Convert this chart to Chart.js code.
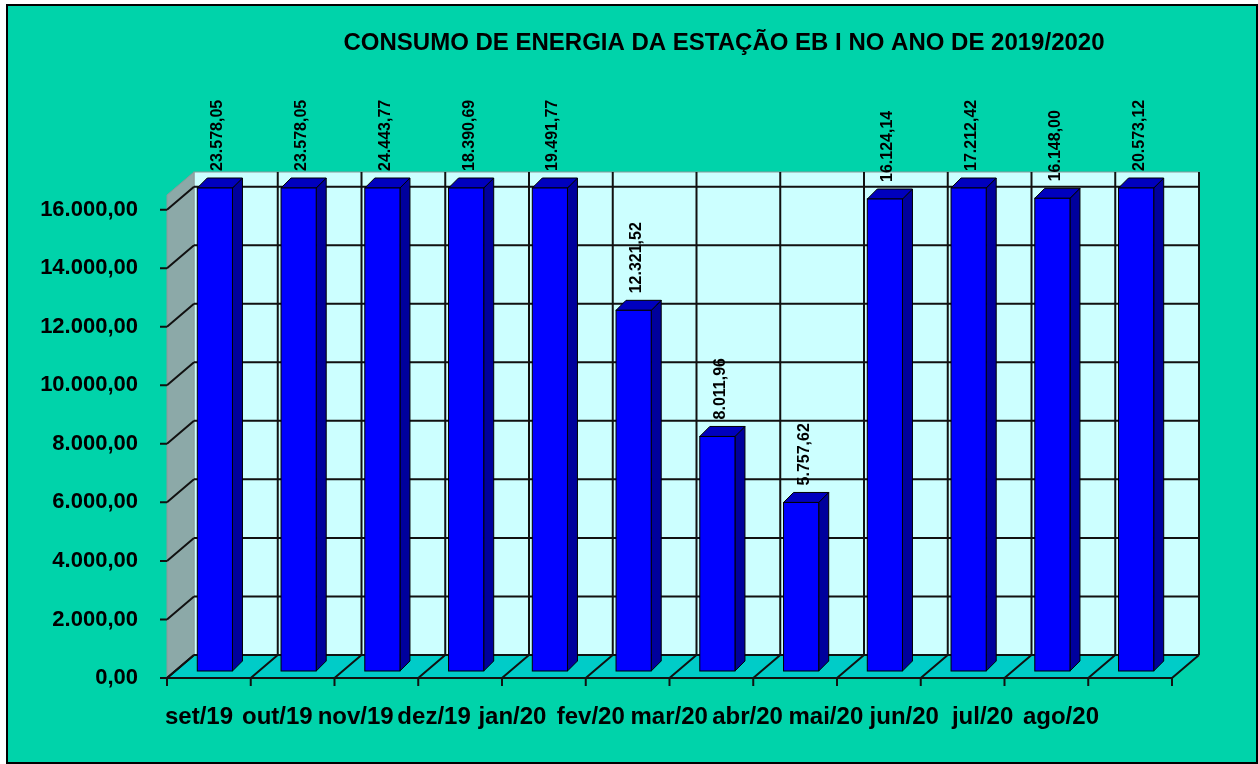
<!DOCTYPE html>
<html>
<head>
<meta charset="utf-8">
<script src="https://cdn.jsdelivr.net/npm/chart.js@4"></script>
<style>
  body { margin: 0; background: #fff; }
  canvas { display: block; }
</style>
</head>
<body>
<canvas id="grafico" width="1258" height="764"></canvas>
<script>
// dados do grafico
const meses = ['set/19', 'out/19', 'nov/19', 'dez/19', 'jan/20', 'fev/20', 'mar/20', 'abr/20', 'mai/20', 'jun/20', 'jul/20', 'ago/20'];
const consumo = [23578.05, 23578.05, 24443.77, 18390.69, 19491.77, 12321.52, 8011.96, 5757.62, 16124.14, 17212.42, 16148.00, 20573.12];
const ticksY = [0, 2000, 4000, 6000, 8000, 10000, 12000, 14000, 16000];
const maxY = 16500;
const titulo = 'CONSUMO DE ENERGIA DA ESTAÇÃO EB I NO ANO DE 2019/2020';

const fonte = '"Liberation Sans", Arial, sans-serif';

function fmt(v) {
    const [inteiro, dec] = v.toFixed(2).split('.');
    return inteiro.replace(/\B(?=(\d{3})+(?!\d))/g, '.') + ',' + dec;
}

// profundidade das paredes e das barras
const fundoX = 27, fundoY = -23;
const barraDx = 6, barraDy = -7, barraProf = 10;

const excel3d = {
    id: 'excel3d',
    beforeDraw(chart) {
        const ctx = chart.ctx;
        ctx.save();
        ctx.fillStyle = '#ffffff';
        ctx.fillRect(0, 0, chart.width, chart.height);
        ctx.fillStyle = '#00D3AA';
        ctx.fillRect(8, 6, 1248, 756);
        ctx.strokeStyle = '#000';
        ctx.lineWidth = 2;
        ctx.strokeRect(7, 5, 1250, 758);
        ctx.fillStyle = '#000';
        ctx.font = 'bold 24px ' + fonte;
        ctx.textAlign = 'center';
        ctx.textBaseline = 'middle';
        ctx.fillText(titulo, 724, 43);
        ctx.restore();
    },
    beforeDatasetsDraw(chart) {
        const ctx = chart.ctx;
        const { left, right, top, bottom } = chart.chartArea;
        const y = chart.scales.y;
        ctx.save();
        // parede do fundo
        ctx.fillStyle = '#CCFFFF';
        ctx.fillRect(left + fundoX, top + fundoY, right - left, bottom - top);
        ctx.strokeStyle = '#8a9a9a';
        ctx.lineWidth = 1;
        ctx.strokeRect(left + fundoX, top + fundoY, right - left, bottom - top);
        // parede lateral
        ctx.fillStyle = '#8CA9A8';
        ctx.beginPath();
        ctx.moveTo(left, top);
        ctx.lineTo(left + fundoX, top + fundoY);
        ctx.lineTo(left + fundoX, bottom + fundoY);
        ctx.lineTo(left, bottom);
        ctx.closePath();
        ctx.fill();
        ctx.stroke();
        // piso
        ctx.fillStyle = '#00CCC8';
        ctx.beginPath();
        ctx.moveTo(left, bottom);
        ctx.lineTo(right, bottom);
        ctx.lineTo(right + fundoX, bottom + fundoY);
        ctx.lineTo(left + fundoX, bottom + fundoY);
        ctx.closePath();
        ctx.fill();

        ctx.strokeStyle = '#111';
        ctx.lineWidth = 2;
        // linhas horizontais
        y.ticks.forEach(t => {
            const py = y.getPixelForValue(t.value);
            ctx.beginPath();
            ctx.moveTo(left + fundoX, py + fundoY);
            ctx.lineTo(right + fundoX, py + fundoY);
            ctx.moveTo(left, py);
            ctx.lineTo(left + fundoX, py + fundoY);
            ctx.moveTo(left - 7, py);
            ctx.lineTo(left, py);
            ctx.stroke();
        });
        // linhas verticais
        const passo = (right - left) / meses.length;
        for (let k = 0; k <= meses.length; k++) {
            const bx = left + k * passo;
            ctx.beginPath();
            if (k > 0) {
                ctx.moveTo(bx + fundoX, top + fundoY);
                ctx.lineTo(bx + fundoX, bottom + fundoY);
            }
            ctx.moveTo(bx, bottom);
            ctx.lineTo(bx + fundoX, bottom + fundoY);
            ctx.moveTo(bx, bottom);
            ctx.lineTo(bx, bottom + 8);
            ctx.stroke();
        }
        ctx.beginPath();
        ctx.moveTo(left, bottom);
        ctx.lineTo(right, bottom);
        ctx.stroke();
        ctx.restore();
    },
    afterDatasetsDraw(chart) {
        const ctx = chart.ctx;
        const y = chart.scales.y;
        const meta = chart.getDatasetMeta(0);
        ctx.save();
        ctx.lineWidth = 1;
        ctx.strokeStyle = '#000';
        meta.data.forEach((bar, i) => {
            const v = Math.min(consumo[i], maxY);
            const w = bar.width;
            const x0 = bar.x - w / 2 + barraDx;
            const x1 = bar.x + w / 2 + barraDx;
            const yTop = y.getPixelForValue(v) + barraDy;
            const yBase = y.getPixelForValue(0) + barraDy;
            const d = barraProf;
            // lateral
            ctx.fillStyle = '#00009C';
            ctx.beginPath();
            ctx.moveTo(x1, yBase);
            ctx.lineTo(x1, yTop);
            ctx.lineTo(x1 + d, yTop - d);
            ctx.lineTo(x1 + d, yBase - d);
            ctx.closePath();
            ctx.fill();
            ctx.stroke();
            // topo
            ctx.fillStyle = '#0000BE';
            ctx.beginPath();
            ctx.moveTo(x0, yTop);
            ctx.lineTo(x1, yTop);
            ctx.lineTo(x1 + d, yTop - d);
            ctx.lineTo(x0 + d, yTop - d);
            ctx.closePath();
            ctx.fill();
            ctx.stroke();
            // frente
            ctx.fillStyle = '#0000FF';
            ctx.fillRect(x0, yTop, w, yBase - yTop);
            ctx.strokeRect(x0, yTop, w, yBase - yTop);
            // rotulo
            ctx.save();
            ctx.translate(bar.x + barraDx + 3, yTop - d - 7);
            ctx.rotate(-Math.PI / 2);
            ctx.fillStyle = '#000';
            ctx.font = 'bold 16px ' + fonte;
            ctx.textAlign = 'left';
            ctx.textBaseline = 'middle';
            ctx.fillText(fmt(consumo[i]), 0, 0);
            ctx.restore();
        });
        ctx.restore();
    }
};

const ctx = document.getElementById('grafico').getContext('2d');
new Chart(ctx, {
    type: 'bar',
    data: {
        labels: meses,
        datasets: [{
            label: 'Consumo',
            data: consumo,
            backgroundColor: 'rgba(0,0,0,0)',
            borderWidth: 0,
            barPercentage: 0.42,
            categoryPercentage: 1
        }]
    },
    options: {
        responsive: false,
        animation: false,
        layout: { padding: { top: 195, right: 86, left: 0, bottom: 0 } },
        plugins: {
            legend: { display: false },
            tooltip: { enabled: false }
        },
        scales: {
            x: {
                display: false
            },
            x2: {
                type: 'linear',
                position: 'bottom',
                bounds: 'data',
                offset: false,
                min: -0.408,
                max: 12.417,
                grid: { display: false, drawTicks: false, offset: false },
                border: { display: false },
                afterBuildTicks: s => { s.ticks = meses.map((m, i) => ({ value: i })); },
                afterFit: s => { s.height = 86; },
                ticks: {
                    autoSkip: false,
                    maxRotation: 0,
                    padding: 25,
                    color: '#000',
                    font: { family: fonte, size: 24, weight: 'bold' },
                    callback: v => meses[v]
                }
            },
            y: {
                bounds: 'data',
                min: 0,
                max: maxY,
                grid: { display: false, drawTicks: false },
                border: { display: false },
                afterBuildTicks: s => { s.ticks = ticksY.map(v => ({ value: v })); },
                afterFit: s => { s.width = 167; },
                ticks: {
                    autoSkip: false,
                    padding: 29,
                    color: '#000',
                    font: { family: fonte, size: 22, weight: 'bold' },
                    callback: v => fmt(v)
                }
            }
        }
    },
    plugins: [excel3d]
});
</script>
</body>
</html>
